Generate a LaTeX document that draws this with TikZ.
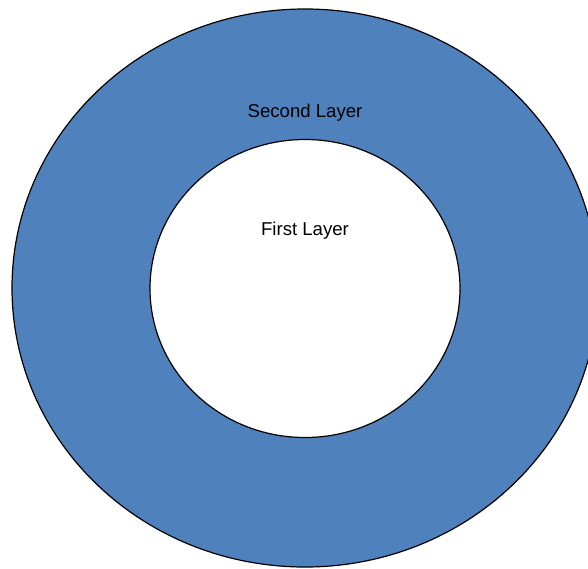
\documentclass[tikz,border=0pt]{standalone}
\usepackage{fontspec}
\setmainfont{Liberation Sans}
\usetikzlibrary{shapes.geometric}
\definecolor{layerblue}{HTML}{4F81BD}
\tikzset{
  ring/.style={ellipse, draw=black, line width=1.2pt, inner sep=0pt},
  label/.style={font=\fontsize{18.6}{22}\selectfont, text=black, inner sep=0pt}
}
\begin{document}
\begin{tikzpicture}[x=1pt, y=1pt]
  \useasboundingbox (0,0) rectangle (588,-568);
  \clip (0,0) rectangle (588,-568);
  % outer layer
  \node[ring, fill=layerblue, minimum width=586pt, minimum height=558pt] (outer) at (305,-288) {};
  % inner layer
  \node[ring, fill=white, minimum width=310pt, minimum height=298pt] (inner) at (305,-288.5) {};
  \node[label] (second) at (305,-113) {Second Layer};
  \node[label] (first) at (305,-231) {First Layer};
\end{tikzpicture}
\end{document}
